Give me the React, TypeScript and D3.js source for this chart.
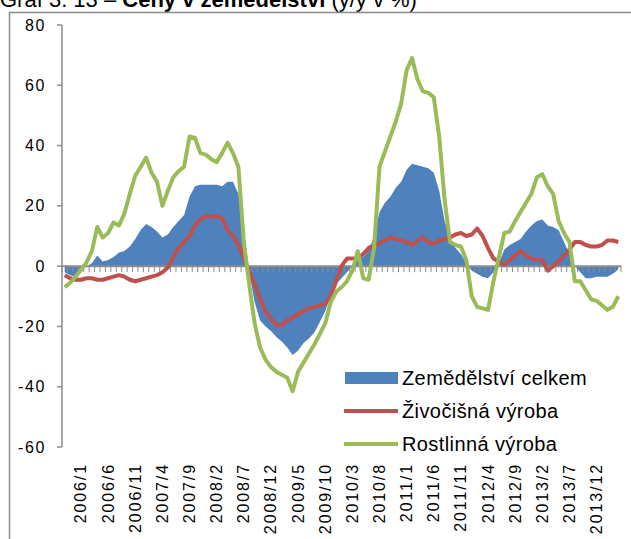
import React from "react";
import * as d3 from "d3";

// months 2005/10 .. 2014/4
const months: string[] = [];
for (let y = 2005, m = 10; y < 2014 || (y === 2014 && m <= 4); ) {
  months.push(y + "/" + m);
  m++;
  if (m > 12) { m = 1; y++; }
}

const labelMonths = ["2006/1", "2006/6", "2006/11", "2007/4", "2007/9", "2008/2", "2008/7", "2008/12", "2009/5", "2009/10", "2010/3", "2010/8", "2011/1", "2011/6", "2011/11", "2012/4", "2012/9", "2013/2", "2013/7", "2013/12"];
const yTicks = [80, 60, 40, 20, 0, -20, -40, -60];

// Zemědělství celkem
const celkem = [
  -2, -3, -3.5, -2, 0, 1, 3.5, 1.5, 2, 3, 4.5, 5, 6.5, 9, 12, 14, 13, 11.5, 9.5, 10.5,
  13, 15, 17, 23, 26.5, 27, 27, 27, 27, 26.5, 28, 28, 24, 12, -2, -12, -18, -20, -21.5, -23.5,
  -25, -27, -29.5, -28, -25.5, -24, -22, -18.5, -15, -10, -6, -4, -2, 0, 2, 3, 5, 10, 18, 21,
  23, 26, 28, 32, 34, 33.5, 33, 32.5, 31, 25, 15, 9, 6, 4, 1, -1.5, -2.5, -3.5, -4, -2,
  1, 5.5, 7, 8, 9, 11.5, 13.5, 15, 15.5, 13.5, 13, 12, 8, 4, 0, -2, -4, -4, -3.5, -3.5,
  -3.5, -2.5, -1,
];

// Živočišná výroba
const zivocisna = [
  -3, -4, -4.5, -4.5, -4, -4, -4.5, -4.5, -4, -3.5, -3, -3.5, -4.5, -5, -4.5, -4, -3.5, -3, -2, -0.5,
  3, 6, 8, 10, 13.5, 15.5, 16.5, 16.5, 16.5, 16, 12, 10, 7, 3, -2, -6, -11, -15, -17.5, -19.5,
  -19.5, -18, -17, -16, -15, -14, -13.5, -13, -12.5, -10, -5, 0, 2.5, 2.5, 2.5, 4, 6, 7, 7.5, 8.5,
  9.5, 9, 8.5, 8, 7, 8.5, 9.5, 8, 7.5, 8.5, 9, 9.5, 10.5, 11, 10, 10.5, 12.5, 10, 6, 2.5,
  1.5, 0.5, 2, 3.5, 5, 3.5, 2.5, 2, 2, -1.5, 0, 1.5, 3.5, 5.5, 8, 8, 7, 6.5, 6.5, 7,
  8.5, 8.5, 8,
];

// Rostlinná výroba
const rostlinna = [
  -7, -5.5, -3.5, -1.2, 1.2, 5, 13, 9.5, 11, 14.5, 13.5, 17.5, 24, 30, 33, 36, 31, 28, 20, 25,
  29.5, 31.5, 33, 43, 42.5, 37.5, 37, 35.5, 34.5, 37.5, 41, 37.5, 33, 8, -6, -19, -27, -31, -33.5, -35,
  -36, -37, -41.5, -35, -32, -29, -26, -22.5, -19, -12, -8.5, -7, -5, -1.5, 5, -4, -4.5, 6, 33, 38,
  43, 48, 54, 65, 69, 62, 58, 57.5, 56, 43, 22, 8, 7, 6.5, 2, -10, -13.5, -14, -14.5, -5,
  3, 11, 11.5, 15, 18, 21, 24, 29.5, 30.5, 26.5, 24, 15, 11, 8, -5, -5, -8, -11, -11.5, -13,
  -14.5, -13.5, -10,
];

const W = 631;
const H = 539;
const left = 62;
const right = 621;
const top = 25;
const bottom = 447;
const font = "Arial, 'Liberation Sans', sans-serif";

export default function App() {
  const x = d3.scaleBand<string>().domain(months).range([left, right]).padding(0);
  const y = d3.scaleLinear().domain([-60, 80]).range([bottom, top]);
  const cx = (i: number) => (x(months[i]) as number) + x.bandwidth() / 2;

  const area = d3
    .area<number>()
    .x((_, i) => cx(i))
    .y0(y(0))
    .y1((d) => y(d));
  const line = d3
    .line<number>()
    .x((_, i) => cx(i))
    .y((d) => y(d));

  const bounds = months.map((m) => x(m) as number).concat([right]);
  const y0 = y(0);

  return (
    <svg width={W} height={H} style={{ position: "absolute", left: 0, top: 0 }} fontFamily={font}>
      <rect x={0} y={0} width={W} height={H} fill="#fff" />
      {/* title, cut off at top */}
      <text x={0} y={7} fontSize={22} fill="#000">
        <tspan>Graf 3. 13 – </tspan>
        <tspan fontWeight="bold">Ceny v zemědělství</tspan>
        <tspan> (y/y v %)</tspan>
      </text>
      <rect x={9.5} y={12.5} width={W + 20} height={H + 20} fill="none" stroke="#8c8c8c" strokeWidth={1.5} />

      {/* y axis */}
      <line x1={left} x2={left} y1={top} y2={bottom} stroke="#8c8c8c" strokeWidth={1.5} />
      {yTicks.map((t) => (
        <g key={t}>
          <line x1={left - 5} x2={left} y1={y(t)} y2={y(t)} stroke="#8c8c8c" strokeWidth={1.5} />
          <text x={46} y={y(t)} textAnchor="end" dominantBaseline="central" fontSize={16} letterSpacing={1.6} fill="#000">
            {t}
          </text>
        </g>
      ))}

      <path d={area(celkem) as string} fill="#4f81bd" />

      {/* zero axis with category ticks */}
      <line x1={left} x2={right} y1={y0} y2={y0} stroke="#8c8c8c" strokeWidth={2} />
      {bounds.map((b, i) => (
        <line key={i} x1={b} x2={b} y1={y0} y2={y0 + 6} stroke="#8c8c8c" strokeWidth={1} />
      ))}

      <path d={line(zivocisna) as string} fill="none" stroke="#c0504d" strokeWidth={4} strokeLinejoin="round" />
      <path d={line(rostlinna) as string} fill="none" stroke="#9bbb59" strokeWidth={4} strokeLinejoin="round" />

      {/* category labels */}
      {labelMonths.map((m) => {
        const px = (x(m) as number) + x.bandwidth() / 2;
        return (
          <text
            key={m}
            transform={`translate(${px},463) rotate(-90)`}
            textAnchor="end"
            dominantBaseline="central"
            fontSize={16}
            letterSpacing={1.9}
            fill="#000"
          >
            {m}
          </text>
        );
      })}

      {/* legend */}
      <rect x={345} y={372} width={53} height={12} fill="#4f81bd" />
      <text x={402} y={378} dominantBaseline="central" fontSize={20} letterSpacing={0.4} fill="#000">
        Zemědělství celkem
      </text>
      <line x1={344} x2={398} y1={411} y2={411} stroke="#c0504d" strokeWidth={4} />
      <text x={402} y={411} dominantBaseline="central" fontSize={20} letterSpacing={0.4} fill="#000">
        Živočišná výroba
      </text>
      <line x1={344} x2={398} y1={444} y2={444} stroke="#9bbb59" strokeWidth={4} />
      <text x={402} y={444} dominantBaseline="central" fontSize={20} letterSpacing={0.4} fill="#000">
        Rostlinná výroba
      </text>
    </svg>
  );
}
